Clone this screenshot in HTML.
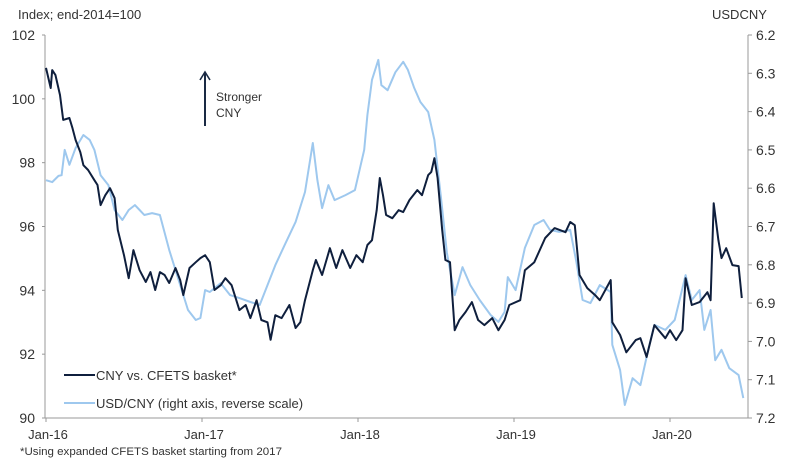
<!DOCTYPE html>
<html><head><meta charset="utf-8"><style>
body{margin:0;background:#fff;}
svg text{font-family:"Liberation Sans",sans-serif;fill:#333;}
</style></head><body>
<svg width="800" height="465" viewBox="0 0 800 465" xmlns="http://www.w3.org/2000/svg">
<g id="axes"></g>
<g id="series"></g>
<text x="18" y="19" font-size="13">Index; end-2014=100</text>
<text x="712" y="19" font-size="13">USDCNY</text>
<g>
<line x1="205" y1="126" x2="205" y2="73" stroke="#1a2a44" stroke-width="2"/>
<polyline points="200,80 205,72 210,80" fill="none" stroke="#1a2a44" stroke-width="1.6"/>
<text x="216" y="101" font-size="12">Stronger</text>
<text x="216" y="117" font-size="12">CNY</text>
</g>
<g>
<line x1="64" y1="375" x2="95" y2="375" stroke="#0f1f3d" stroke-width="2"/>
<text x="96" y="380" font-size="13">CNY vs. CFETS basket*</text>
<line x1="64" y1="403" x2="95" y2="403" stroke="#9ec8ee" stroke-width="2"/>
<text x="96" y="408" font-size="13">USD/CNY (right axis, reverse scale)</text>
</g>
<text x="20" y="455" font-size="11" textLength="262" lengthAdjust="spacingAndGlyphs">*Using expanded CFETS  basket starting from 2017</text>
</svg>
<script>
const cfetsDates=[2016.00,2016.03,2016.04,2016.06,2016.09,2016.11,2016.15,2016.17,2016.19,2016.22,2016.24,2016.27,2016.31,2016.33,2016.35,2016.38,2016.41,2016.44,2016.46,2016.50,2016.53,2016.55,2016.56,2016.60,2016.64,2016.67,2016.70,2016.73,2016.76,2016.79,2016.83,2016.86,2016.88,2016.92,2016.96,2016.99,2017.02,2017.05,2017.08,2017.12,2017.15,2017.19,2017.24,2017.28,2017.31,2017.35,2017.38,2017.42,2017.44,2017.47,2017.51,2017.56,2017.60,2017.63,2017.66,2017.71,2017.73,2017.77,2017.82,2017.86,2017.90,2017.95,2017.99,2018.03,2018.06,2018.09,2018.12,2018.14,2018.16,2018.18,2018.22,2018.26,2018.29,2018.33,2018.38,2018.41,2018.45,2018.47,2018.49,2018.51,2018.54,2018.56,2018.59,2018.62,2018.65,2018.69,2018.73,2018.77,2018.81,2018.86,2018.90,2018.94,2018.97,2019.04,2019.07,2019.13,2019.20,2019.26,2019.33,2019.36,2019.39,2019.42,2019.47,2019.52,2019.55,2019.62,2019.63,2019.68,2019.72,2019.78,2019.81,2019.85,2019.90,2019.97,2020.00,2020.04,2020.08,2020.10,2020.14,2020.19,2020.24,2020.26,2020.28,2020.31,2020.33,2020.36,2020.40,2020.44,2020.46];
const cfetsValues=[100.97,100.34,100.90,100.75,100.12,99.34,99.40,99.08,98.71,98.33,97.92,97.77,97.45,97.30,96.67,96.98,97.20,96.89,95.89,95.10,94.38,94.95,95.26,94.63,94.26,94.57,94.01,94.57,94.48,94.23,94.70,94.32,93.85,94.70,94.88,95.01,95.10,94.88,94.01,94.16,94.38,94.16,93.38,93.54,93.13,93.69,93.07,93.00,92.45,93.22,93.13,93.54,92.82,93.00,93.69,94.63,94.95,94.48,95.32,94.70,95.26,94.70,95.10,94.88,95.42,95.57,96.51,97.52,96.98,96.36,96.26,96.51,96.45,96.83,97.14,96.98,97.61,97.71,98.14,97.52,95.89,94.95,94.88,92.75,93.07,93.32,93.63,93.07,92.91,93.13,92.75,93.07,93.54,93.69,94.63,94.88,95.64,95.95,95.82,96.14,96.04,94.48,94.07,93.85,93.69,94.32,93.00,92.60,92.06,92.44,92.50,91.91,92.91,92.50,92.75,92.44,92.75,94.38,93.54,93.63,93.94,93.69,96.73,95.57,95.01,95.32,94.79,94.76,93.76];
const usdDates=[2016.00,2016.04,2016.08,2016.10,2016.12,2016.15,2016.19,2016.24,2016.28,2016.31,2016.35,2016.40,2016.44,2016.49,2016.53,2016.57,2016.60,2016.63,2016.68,2016.73,2016.79,2016.86,2016.91,2016.96,2016.99,2017.02,2017.05,2017.12,2017.18,2017.24,2017.31,2017.37,2017.42,2017.47,2017.53,2017.60,2017.66,2017.71,2017.74,2017.77,2017.81,2017.85,2017.92,2017.98,2018.01,2018.04,2018.06,2018.09,2018.13,2018.15,2018.19,2018.24,2018.29,2018.32,2018.36,2018.40,2018.45,2018.49,2018.53,2018.57,2018.62,2018.67,2018.72,2018.78,2018.85,2018.90,2018.94,2018.96,2019.01,2019.07,2019.13,2019.19,2019.23,2019.29,2019.36,2019.40,2019.44,2019.49,2019.55,2019.62,2019.63,2019.68,2019.71,2019.76,2019.81,2019.86,2019.90,2019.97,2020.03,2020.10,2020.14,2020.19,2020.22,2020.26,2020.29,2020.33,2020.38,2020.44,2020.47];
const usdValues=[6.579,6.584,6.568,6.566,6.500,6.539,6.495,6.461,6.474,6.500,6.566,6.592,6.657,6.683,6.657,6.644,6.657,6.670,6.665,6.670,6.761,6.853,6.918,6.944,6.939,6.866,6.871,6.848,6.879,6.887,6.897,6.905,6.853,6.801,6.748,6.688,6.610,6.482,6.579,6.652,6.592,6.631,6.618,6.605,6.552,6.500,6.409,6.317,6.265,6.331,6.344,6.297,6.270,6.291,6.338,6.375,6.401,6.474,6.618,6.769,6.879,6.806,6.853,6.892,6.931,6.949,6.923,6.832,6.866,6.756,6.696,6.683,6.709,6.714,6.709,6.793,6.892,6.900,6.853,6.871,7.009,7.075,7.166,7.096,7.114,7.022,6.957,6.970,6.944,6.827,6.892,6.866,6.970,6.918,7.049,7.022,7.070,7.088,7.148];
const leftTicks=[90,92,94,96,98,100,102];
const rightTicks=[6.2,6.3,6.4,6.5,6.6,6.7,6.8,6.9,7.0,7.1,7.2];
const xTickYears=[2016,2017,2018,2019,2020];
const xTickLabels=["Jan-16","Jan-17","Jan-18","Jan-19","Jan-20"];

const NS="http://www.w3.org/2000/svg";
const X0=46,PXY=156,XR=748,YT=35,YB=418;
const xs=t=>X0+(t-2016)*PXY;
const yl=v=>YT+(102-v)/12*(YB-YT);
const yr=v=>YT+(v-6.2)/1.0*(YB-YT);
function mk(tag,attrs,parent){const e=document.createElementNS(NS,tag);for(const k in attrs)e.setAttribute(k,attrs[k]);parent.appendChild(e);return e;}
const axes=document.getElementById('axes');
const la=mk('line',{x1:X0-1,y1:YT,x2:X0-1,y2:YB,stroke:'#999','stroke-width':1},axes);


const ra=mk('line',{x1:XR,y1:YT,x2:XR,y2:YB,stroke:'#999','stroke-width':1},axes);


const xa=mk('line',{x1:X0-1,y1:YB,x2:XR,y2:YB,stroke:'#999','stroke-width':1},axes);


leftTicks.forEach(v=>{
  mk('line',{x1:X0-4,y1:yl(v),x2:X0-1,y2:yl(v),stroke:'#999'},axes);
  const t=mk('text',{x:35,y:yl(v)+5,'font-size':14,'text-anchor':'end'},axes);
  
  
  t.textContent=v;
});
rightTicks.forEach(v=>{
  mk('line',{x1:XR,y1:yr(v),x2:XR+4,y2:yr(v),stroke:'#999'},axes);
  const t=mk('text',{x:756,y:yr(v)+5,'font-size':14},axes);
  
  
  t.textContent=v.toFixed(1);
});
xTickYears.forEach((yv,i)=>{
  mk('line',{x1:xs(yv),y1:YB,x2:xs(yv),y2:YB+4,stroke:'#999'},axes);
  const t=mk('text',{x:xs(yv)+2,y:YB+21,'font-size':13,'text-anchor':'middle'},axes);
  
  
  t.textContent=xTickLabels[i];
});
const ser=document.getElementById('series');
const pu=usdDates.map((d,i)=>xs(d).toFixed(1)+','+yr(usdValues[i]).toFixed(1)).join(' ');
const l2=mk('polyline',{points:pu,fill:'none',stroke:'#9ec8ee','stroke-width':2,'stroke-linejoin':'round'},ser);


const pc=cfetsDates.map((d,i)=>xs(d).toFixed(1)+','+yl(cfetsValues[i]).toFixed(1)).join(' ');
const l1=mk('polyline',{points:pc,fill:'none',stroke:'#0f1f3d','stroke-width':2,'stroke-linejoin':'round'},ser);


</script>
</body></html>
